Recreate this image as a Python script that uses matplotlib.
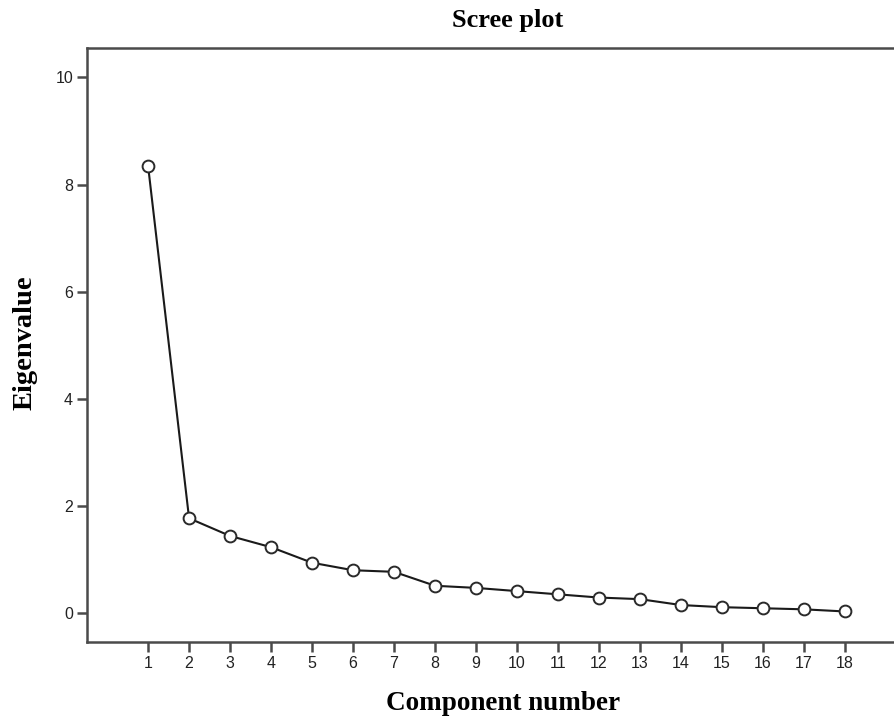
import numpy as np
import matplotlib.pyplot as plt

# ── Data ──────────────────────────────────────────────────────────────────────
components  = np.arange(1, 19)
eigenvalues = [8.35, 1.77, 1.44, 1.23, 0.94, 0.80, 0.77, 0.51, 0.47,
               0.41, 0.35, 0.29, 0.26, 0.15, 0.11, 0.09, 0.07, 0.03]
y_ticks     = [0, 2, 4, 6, 8, 10]

W, H = 894, 718
fig = plt.figure(figsize=(W / 100, H / 100), dpi=100)

# axes frame runs past the right edge of the image, like the original export
left, right, top, bottom = 87, 906, 48, 642
ax = fig.add_axes([left / W, 1 - bottom / H, (right - left) / W, (bottom - top) / H])

spine_col = '#4a4a4a'
ax.plot(components, eigenvalues, color='#1a1a1a', linewidth=1.5,
        marker='o', markersize=8.5, markerfacecolor='white',
        markeredgecolor='#2a2a2a', markeredgewidth=1.4)

ax.set_xlim(-0.49, 19.49)
ax.set_ylim(-0.54, 10.55)
ax.set_xticks(components)
ax.set_yticks(y_ticks)
ax.tick_params(direction='out', length=7, width=1.8, color=spine_col,
               labelsize=11.5, pad=3)
for lab in ax.get_xticklabels() + ax.get_yticklabels():
    lab.set_fontfamily('Liberation Sans')
    lab.set_color('#222222')

for s in ax.spines.values():
    s.set_color(spine_col)
    s.set_linewidth(1.8)

serif = 'Liberation Serif'
fig.text(508 / W, 1 - 21 / H, 'Scree plot', ha='center', va='center',
         fontfamily=serif, fontweight='bold', fontsize=19)
fig.text(503 / W, 1 - 703 / H, 'Component number', ha='center', va='center',
         fontfamily=serif, fontweight='bold', fontsize=19.5)
fig.text(25 / W, 1 - 343 / H, 'Eigenvalue', ha='center', va='center',
         rotation=90, fontfamily=serif, fontweight='bold', fontsize=20.5)

fig.savefig('out.png', dpi=100)
